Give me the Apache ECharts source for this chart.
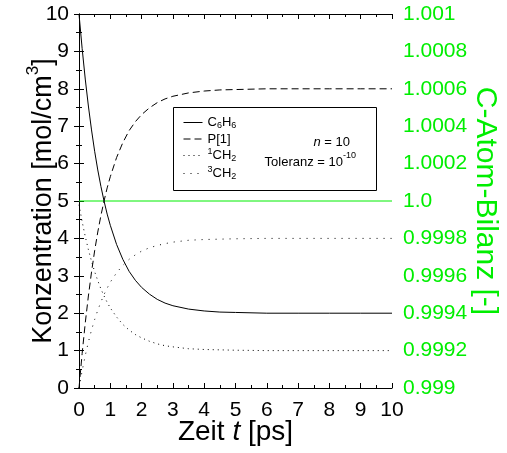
<!DOCTYPE html>
<html>
<head>
<meta charset="utf-8">
<script src="https://cdn.jsdelivr.net/npm/echarts@6/dist/echarts.min.js"></script>
<style>
  html, body { margin: 0; padding: 0; background: #fff; }
  #chart { width: 507px; height: 453px; }
</style>
</head>
<body>
<div id="chart"></div>
<script>
// Zeit t [ps]
const times = [0, 0.1, 0.2, 0.3, 0.4, 0.5, 0.6, 0.7, 0.8, 0.9, 1.0, 1.2, 1.4, 1.6, 1.8, 2.0,
  2.25, 2.5, 2.75, 3, 3.5, 4, 4.5, 5, 6, 7, 8, 9, 10];
// Konzentration [mol/cm3]
const c6h6 = [10, 9.08, 8.26, 7.54, 6.90, 6.33, 5.83, 5.39, 5.00, 4.65, 4.35, 3.84, 3.44, 3.12, 2.88, 2.69,
  2.51, 2.37, 2.27, 2.20, 2.11, 2.06, 2.03, 2.02, 2.00, 2, 2, 2, 2];
const p1 = [0, 0.92, 1.74, 2.46, 3.10, 3.67, 4.17, 4.61, 5.00, 5.35, 5.65, 6.16, 6.56, 6.88, 7.12, 7.31,
  7.49, 7.63, 7.73, 7.80, 7.89, 7.94, 7.97, 7.98, 8, 8, 8, 8, 8];
const ch2Singlet = [4.90, 4.45, 4.05, 3.70, 3.39, 3.11, 2.87, 2.65, 2.46, 2.29, 2.14, 1.90, 1.70, 1.55, 1.43, 1.34,
  1.25, 1.18, 1.13, 1.10, 1.05, 1.03, 1.02, 1.01, 1, 1, 1, 1, 1];
const ch2Triplet = [0, 0.46, 0.87, 1.23, 1.55, 1.83, 2.08, 2.30, 2.50, 2.67, 2.83, 3.08, 3.28, 3.44, 3.56, 3.66,
  3.75, 3.81, 3.86, 3.90, 3.95, 3.97, 3.98, 3.99, 4, 4, 4, 4, 4];
// C-Atom-Bilanz [-]
const balanceTimes = [0, 10];
const balance = [1.0, 1.0];

const names = ['C6H6', 'P[1]', '1CH2', '3CH2'];
const legendText = {
  'C6H6': '{n|C}{sub|6}{n|H}{sub|6}',
  'P[1]': '{n|P[1]}',
  '1CH2': '{sup|1}{n|CH}{sub|2}',
  '3CH2': '{sup|3}{n|CH}{sub|2}'
};

const FONT = '"Liberation Sans", Arial, sans-serif';
const GREEN = '#00ee00';

const zip = (xs, ys) => xs.map((x, i) => [x, ys[i]]);

function curve(name, values, dash) {
  return {
    name: name,
    type: 'line',
    data: zip(times, values),
    symbol: 'none',
    smooth: false,
    lineStyle: { color: '#000', width: 1, type: dash },
    itemStyle: { color: '#000' },
    z: 3
  };
}

const chart = echarts.init(document.getElementById('chart'));

const option = {
  animation: false,
  backgroundColor: '#fff',
  textStyle: { fontFamily: FONT },
  grid: { left: 79, right: 115, top: 14, bottom: 65, outerBoundsMode: 'none', containLabel: false },
  xAxis: [
    {
      type: 'value', min: 0, max: 10, interval: 1,
      name: '{n|Zeit }{i|t}{n| [ps]}',
      nameLocation: 'middle', nameGap: 30, nameMoveOverlap: false,
      nameTextStyle: {
        rich: {
          n: { fontSize: 28, fontFamily: FONT, color: '#000' },
          i: { fontSize: 28, fontFamily: FONT, fontStyle: 'italic', color: '#000' }
        }
      },
      axisLine: { show: true, lineStyle: { color: '#000', width: 1 } },
      axisTick: { show: true, inside: true, length: 5, lineStyle: { color: '#000' } },
      minorTick: { show: true, splitNumber: 2, length: 3, lineStyle: { color: '#000' } },
      axisLabel: { fontSize: 21, color: '#000', margin: 12, fontFamily: FONT },
      splitLine: { show: false }
    },
    {
      type: 'value', min: 0, max: 10, interval: 1, position: 'top',
      axisLine: { show: true, lineStyle: { color: '#000', width: 1 } },
      axisTick: { show: true, inside: true, length: 5, lineStyle: { color: '#000' } },
      minorTick: { show: true, splitNumber: 2, length: 3, lineStyle: { color: '#000' } },
      axisLabel: { show: false },
      splitLine: { show: false }
    }
  ],
  yAxis: [
    {
      type: 'value', min: 0, max: 10, interval: 1, position: 'left',
      name: '{n|Konzentration [mol/cm}{sup|3}{n|]}',
      nameLocation: 'middle', nameGap: 22, nameRotate: 90, nameMoveOverlap: false,
      nameTextStyle: {
        rich: {
          n: { fontSize: 27, fontFamily: FONT, color: '#000', lineHeight: 32, verticalAlign: 'bottom' },
          sup: { fontSize: 17, fontFamily: FONT, color: '#000', lineHeight: 32, verticalAlign: 'top' }
        }
      },
      axisLine: { show: true, lineStyle: { color: '#000', width: 1 } },
      axisTick: { show: true, inside: true, length: 5, lineStyle: { color: '#000' } },
      minorTick: { show: true, splitNumber: 2, length: 3, lineStyle: { color: '#000' } },
      axisLabel: { fontSize: 21, color: '#000', margin: 10, fontFamily: FONT },
      splitLine: { show: false }
    },
    {
      type: 'value', min: 0.999, max: 1.001, interval: 0.0002, position: 'right',
      name: 'C-Atom-Bilanz [-]',
      nameLocation: 'middle', nameGap: 78, nameRotate: -90, nameMoveOverlap: false,
      nameTextStyle: { fontSize: 30, color: GREEN, fontFamily: FONT },
      axisLine: { show: true, lineStyle: { color: '#000', width: 1 } },
      axisTick: { show: true, inside: true, length: 5, lineStyle: { color: '#000' } },
      minorTick: { show: true, splitNumber: 2, length: 3, lineStyle: { color: '#000' } },
      axisLabel: {
        fontSize: 21, color: GREEN, margin: 11, fontFamily: FONT,
        formatter: function (v) {
          if (Math.abs(v - 1) < 1e-9) return '1.0';
          return String(parseFloat(v.toFixed(4)));
        }
      },
      splitLine: { show: false }
    }
  ],
  legend: {
    data: names,
    orient: 'vertical',
    left: 183, top: 116,
    itemWidth: 19, itemHeight: 15, itemGap: 2,
    padding: 0,
    itemStyle: { opacity: 0 },
    lineStyle: { width: 1 },
    formatter: function (name) { return legendText[name]; },
    textStyle: {
      color: '#000',
      rich: {
        n: { fontSize: 13, fontFamily: FONT, color: '#000', lineHeight: 16, verticalAlign: 'middle' },
        sub: { fontSize: 9, fontFamily: FONT, color: '#000', lineHeight: 16, verticalAlign: 'bottom' },
        sup: { fontSize: 9, fontFamily: FONT, color: '#000', lineHeight: 16, verticalAlign: 'top' }
      }
    }
  },
  graphic: [
    {
      type: 'rect', z: 1,
      shape: { x: 173.5, y: 107.5, width: 203, height: 83 },
      style: { fill: '#fff', stroke: '#000', lineWidth: 1 }
    },
    {
      type: 'text', z: 10,
      style: {
        x: 350, y: 142, align: 'right', verticalAlign: 'middle',
        text: '{i|n}{n| = 10}',
        rich: {
          i: { fontSize: 13, fontFamily: FONT, fontStyle: 'italic', fill: '#000' },
          n: { fontSize: 13, fontFamily: FONT, fill: '#000' }
        }
      }
    },
    {
      type: 'text', z: 10,
      style: {
        x: 356, y: 160, align: 'right', verticalAlign: 'middle',
        text: '{n|Toleranz = 10}{sup|-10}',
        rich: {
          n: { fontSize: 13, fontFamily: FONT, fill: '#000', lineHeight: 18, verticalAlign: 'bottom' },
          sup: { fontSize: 9, fontFamily: FONT, fill: '#000', lineHeight: 18, verticalAlign: 'top' }
        }
      }
    }
  ],
  series: [
    curve('C6H6', c6h6, 'solid'),
    curve('P[1]', p1, [7, 4]),
    curve('1CH2', ch2Singlet, [1, 4]),
    curve('3CH2', ch2Triplet, [1, 6]),
    {
      name: 'Bilanz',
      type: 'line',
      yAxisIndex: 1,
      data: zip(balanceTimes, balance),
      symbol: 'none',
      lineStyle: { color: GREEN, width: 1 },
      z: 2
    }
  ]
};

chart.setOption(option);
</script>
</body>
</html>
